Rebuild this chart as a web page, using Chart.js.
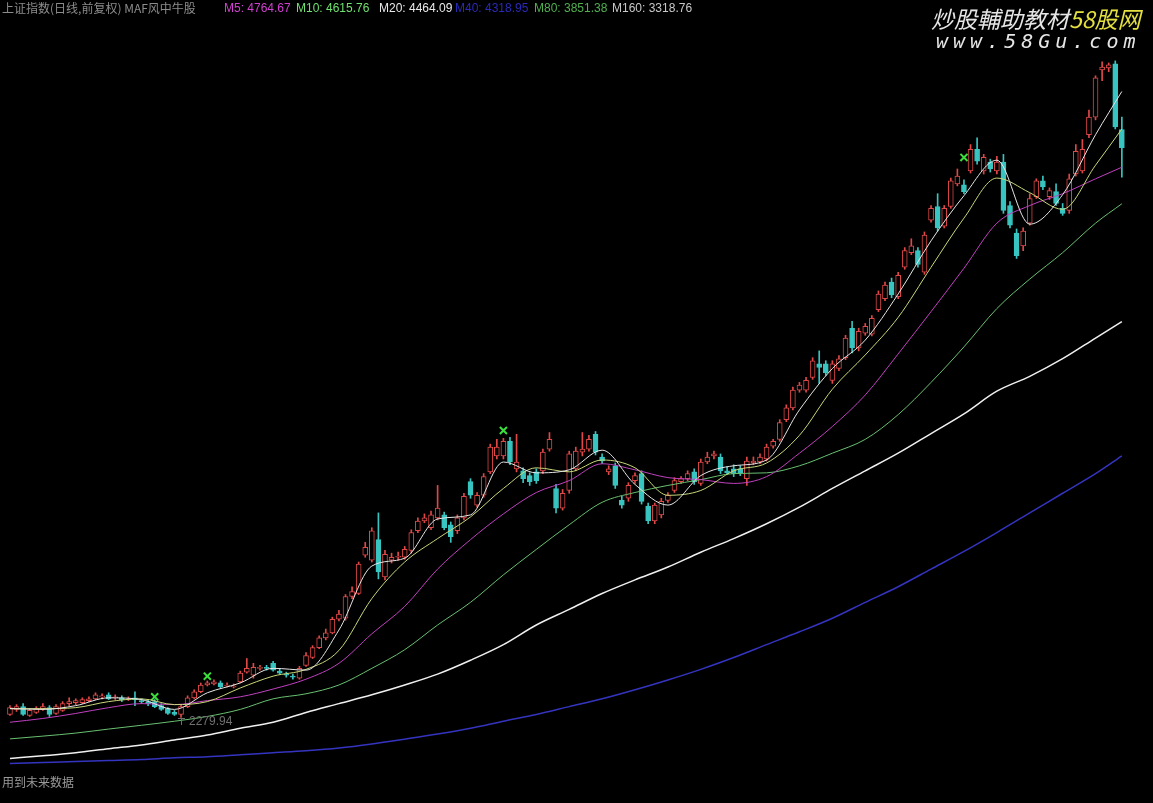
<!DOCTYPE html>
<html>
<head>
<meta charset="utf-8">
<script src="https://cdn.jsdelivr.net/npm/chart.js@4.4.0/dist/chart.umd.min.js"></script>
<style>
  body { margin: 0; background: #000; overflow: hidden; }
  #wrap { position: relative; width: 1153px; height: 803px; }
  canvas { position: absolute; left: 0; top: 0; }
  .t { position: absolute; top: 1px; font: 12px "Liberation Sans", "Noto Sans CJK SC", sans-serif; line-height: 14px; white-space: nowrap; }
  .wm1 { position: absolute; left: 931px; top: 6px; font: italic 23px "Noto Sans CJK SC", sans-serif; line-height: 24px; color: #e6e6e6; white-space: nowrap; }
  .wm2 { position: absolute; left: 936px; top: 30px; font: italic 20px "DejaVu Sans Mono", monospace; line-height: 22px; color: #e6e6e6; letter-spacing: 5px; white-space: nowrap; }
</style>
</head>
<body>
<div id="wrap">
  <canvas id="chart" width="1153" height="803"></canvas>
  <div class="t" style="left:2px;color:#8c8c8c;font-family:'Noto Sans CJK SC',sans-serif">上证指数(日线,前复权) MAF风中牛股</div>
  <div class="t" style="left:224px;color:#d040d0">M5: 4764.67</div>
  <div class="t" style="left:296px;color:#70e070">M10: 4615.76</div>
  <div class="t" style="left:379px;color:#e8e8e8">M20: 4464.09</div>
  <div class="t" style="left:455px;color:#2a2ab8">M40: 4318.95</div>
  <div class="t" style="left:534px;color:#50b050">M80: 3851.38</div>
  <div class="t" style="left:612px;color:#c8c8c8">M160: 3318.76</div>
  <div class="wm1">炒股輔助教材<span style="color:#e4e040">58股网</span></div>
  <div class="wm2">www.58Gu.com</div>
  <div class="t" style="left:2px;top:775px;color:#9a9a9a;font-family:'Noto Sans CJK SC',sans-serif">用到未来数据</div>
  <div class="t" id="lowLabel" style="color:#707070">2279.94</div>
</div>
<script>
// daily candles
const candleOpen = [
  2292,2312,2323,2288,2300,2315,2319,2296,2308,2335,
  2339,2339,2347,2354,2362,2370,2358,2358,2351,2358,
  2347,2343,2343,2327,2315,2300,2292,2323,2358,2382,
  2409,2413,2417,2405,2401,2421,2460,2448,2475,2479,
  2495,2464,2452,2444,2436,2487,2518,2557,2596,2616,
  2670,2674,2760,2772,2924,2904,2986,2838,2904,2916,
  2916,2943,3021,3060,3033,3072,3084,3045,3021,3072,
  3216,3123,3162,3255,3318,3318,3376,3267,3259,3240,
  3255,3259,3345,3189,3111,3181,3267,3333,3345,3404,
  3314,3255,3279,3142,3150,3220,3248,3119,3060,3084,
  3142,3181,3216,3228,3255,3209,3294,3318,3314,3259,
  3267,3267,3228,3290,3294,3306,3357,3384,3462,3509,
  3579,3579,3630,3684,3684,3618,3665,3708,3825,3747,
  3805,3801,3899,3942,4008,3950,4067,4125,4133,4047,
  4254,4308,4230,4308,4398,4394,4449,4535,4449,4484,
  4449,4484,4312,4203,4152,4242,4347,4410,4347,4367,
  4301,4293,4437,4449,4593,4663,4850,4858,4874,4613
];
const candleHigh = [
  2327,2331,2335,2315,2323,2335,2327,2331,2343,2358,
  2354,2358,2362,2378,2374,2378,2370,2366,2362,2382,
  2354,2351,2351,2335,2319,2308,2331,2366,2390,2417,
  2425,2429,2425,2417,2413,2464,2514,2495,2487,2487,
  2503,2471,2460,2452,2483,2538,2565,2604,2631,2678,
  2705,2768,2799,2897,2975,3033,3092,2943,2932,2936,
  2959,3025,3072,3088,3099,3201,3095,3056,3084,3170,
  3228,3173,3248,3365,3384,3388,3392,3404,3271,3251,
  3267,3345,3411,3205,3185,3337,3353,3411,3400,3415,
  3326,3279,3290,3158,3212,3251,3259,3131,3131,3150,
  3173,3232,3236,3259,3267,3306,3333,3337,3326,3275,
  3283,3279,3314,3314,3326,3365,3384,3462,3521,3591,
  3610,3630,3708,3735,3696,3696,3716,3797,3852,3825,
  3844,3875,3973,4008,4024,4047,4145,4180,4145,4207,
  4312,4359,4312,4421,4457,4414,4554,4581,4515,4496,
  4507,4515,4328,4219,4223,4359,4418,4429,4382,4398,
  4320,4437,4554,4574,4691,4827,4882,4878,4886,4663
];
const candleLow = [
  2288,2304,2288,2284,2296,2308,2284,2292,2304,2327,
  2331,2335,2343,2351,2354,2351,2351,2343,2347,2327,
  2335,2327,2319,2308,2292,2288,2279.94,2319,2354,2378,
  2405,2409,2397,2401,2397,2417,2456,2436,2468,2468,
  2464,2452,2440,2432,2432,2483,2514,2553,2588,2612,
  2663,2666,2752,2768,2916,2897,2830,2826,2893,2904,
  2908,2932,3014,3053,3025,3064,3025,2975,3010,3064,
  3150,3115,3154,3248,3306,3306,3283,3255,3212,3201,
  3209,3248,3337,3092,3103,3170,3259,3318,3337,3322,
  3287,3244,3189,3111,3138,3209,3127,3049,3049,3072,
  3134,3173,3209,3220,3205,3201,3287,3306,3248,3244,
  3236,3240,3201,3283,3287,3298,3349,3376,3454,3501,
  3571,3571,3622,3606,3638,3606,3657,3700,3727,3735,
  3797,3794,3891,3934,3946,3942,4059,4117,4067,4039,
  4246,4211,4223,4301,4390,4359,4441,4476,4437,4445,
  4437,4281,4223,4102,4133,4234,4340,4375,4336,4312,
  4273,4281,4429,4441,4581,4652,4808,4843,4616,4425
];
const candleClose = [
  2319,2323,2292,2308,2315,2323,2292,2323,2335,2343,
  2347,2351,2354,2370,2366,2354,2362,2351,2354,2351,
  2343,2335,2323,2312,2296,2292,2323,2358,2382,2409,
  2417,2421,2401,2409,2405,2456,2475,2479,2479,2475,
  2468,2456,2448,2440,2475,2526,2557,2596,2616,2670,
  2690,2760,2780,2889,2955,3021,2858,2928,2916,2920,
  2947,3014,3060,3072,3084,3111,3033,2998,3072,3158,
  3162,3162,3236,3353,3353,3376,3294,3294,3228,3216,
  3220,3333,3384,3111,3170,3326,3337,3345,3384,3333,
  3298,3267,3201,3123,3201,3240,3138,3060,3123,3138,
  3162,3220,3228,3248,3216,3294,3314,3326,3259,3251,
  3248,3251,3298,3298,3314,3353,3376,3450,3509,3579,
  3599,3618,3696,3669,3649,3684,3704,3786,3747,3813,
  3833,3864,3961,3996,3957,4035,4133,4152,4078,4195,
  4301,4223,4301,4410,4429,4367,4535,4488,4503,4457,
  4484,4293,4234,4113,4211,4340,4410,4386,4371,4320,
  4281,4418,4527,4535,4663,4819,4862,4870,4624,4542
];

// moving averages, sampled every 5 bars
const maIdx = [0,5,10,15,20,25,30,35,40,45,50,55,60,65,70,75,80,85,90,95,100,105,110,115,120,125,130,135,140,145,150,155,160,165,169];
const ma5 = [2315,2312,2327,2358,2351,2312,2378,2417,2475,2468,2627,2881,2912,3068,3084,3294,3251,3263,3341,3205,3123,3240,3279,3302,3501,3665,3778,3961,4172,4351,4492,4238,4355,4593,4764.67];
const ma10 = [2315,2315,2319,2343,2354,2331,2343,2397,2444,2471,2546,2752,2897,2990,3076,3189,3271,3255,3302,3271,3162,3181,3259,3290,3400,3583,3719,3868,4067,4262,4421,4363,4297,4472,4615.76];
const ma20 = [2261,2276,2296,2319,2335,2331,2347,2362,2393,2432,2495,2612,2721,2869,2986,3088,3173,3220,3287,3263,3232,3224,3209,3236,3329,3435,3560,3723,3891,4063,4242,4312,4359,4418,4464.09];
const ma40 = [2195,2206,2218,2234,2249,2265,2284,2312,2354,2374,2409,2475,2549,2647,2737,2846,2947,3045,3134,3173,3201,3224,3248,3251,3279,3329,3384,3482,3610,3751,3903,4020,4125,4242,4318.95];
const ma80 = [2117,2128,2140,2156,2171,2191,2210,2237,2261,2300,2335,2370,2409,2452,2507,2569,2647,2709,2772,2826,2877,2936,2990,3049,3115,3189,3259,3329,3407,3485,3575,3634,3704,3786,3851.38];
const ma160 = [2097,2101,2105,2109,2113,2120,2124,2132,2140,2148,2159,2175,2194,2214,2237,2265,2292,2323,2354,2390,2429,2471,2518,2569,2620,2674,2737,2799,2869,2939,3014,3092,3170,3248,3318.76];

// signal crosses
const markIdx = [22, 30, 75, 145];
const markVal = [2362, 2444, 3419, 4503];

const lowIdx = 26;
const lowVal = 2279.94;

const upColor = "#e04848";
const downColor = "#38c4c0";

const isUp = candleClose.map((c, i) => c >= candleOpen[i]);
const wickData = candleOpen.map((_, i) => ({ x: i, y: [candleLow[i], candleHigh[i]] }));
const bodyData = candleOpen.map((_, i) => ({ x: i, y: [candleOpen[i], candleClose[i]] }));
const maLine = (vals) => maIdx.map((x, k) => ({ x: x, y: vals[k] }));

const lineSet = (label, vals, color, width) => ({
  type: "line",
  label: label,
  data: maLine(vals),
  borderColor: color,
  borderWidth: width,
  pointRadius: 0,
  cubicInterpolationMode: "monotone",
  order: 0,
});

const lowMarker = {
  id: "lowMarker",
  afterDraw(chart) {
    const x = chart.scales.x.getPixelForValue(lowIdx);
    const y = chart.scales.y.getPixelForValue(lowVal);
    const ctx = chart.ctx;
    ctx.save();
    ctx.strokeStyle = "#707070";
    ctx.lineWidth = 1;
    ctx.beginPath();
    ctx.moveTo(x - 3, Math.round(y) + 1.5);
    ctx.lineTo(x + 4, Math.round(y) + 1.5);
    ctx.moveTo(Math.round(x) + 0.5, Math.round(y) + 1.5);
    ctx.lineTo(Math.round(x) + 0.5, Math.round(y) + 8);
    ctx.stroke();
    ctx.restore();
    const lbl = document.getElementById("lowLabel");
    lbl.style.left = (x + 8) + "px";
    lbl.style.top = (y - 3) + "px";
  },
};

new Chart(document.getElementById("chart"), {
  type: "bar",
  data: {
    datasets: [
      lineSet("MA5", ma5, "#e6e6e6", 1),
      lineSet("MA10", ma10, "#c8d878", 1),
      lineSet("MA20", ma20, "#c040c0", 1),
      lineSet("MA40", ma40, "#68c070", 1),
      lineSet("MA80", ma80, "#f0f0f0", 1.5),
      lineSet("MA160", ma160, "#3434c0", 1.5),
      {
        type: "line",
        label: "signal",
        data: markIdx.map((x, k) => ({ x: x, y: markVal[k] })),
        showLine: false,
        pointStyle: "crossRot",
        pointRadius: 5,
        borderColor: "#3ce03c",
        borderWidth: 2,
        order: 0,
      },
      {
        label: "body",
        data: bodyData,
        grouped: false,
        barThickness: 5,
        borderWidth: 1,
        borderSkipped: false,
        backgroundColor: isUp.map((u) => (u ? "#000000" : downColor)),
        borderColor: isUp.map((u) => (u ? upColor : downColor)),
        order: 1,
      },
      {
        label: "wick",
        data: wickData,
        grouped: false,
        barThickness: 1,
        borderWidth: 0,
        backgroundColor: isUp.map((u) => (u ? upColor : downColor)),
        order: 2,
      },
    ],
  },
  options: {
    responsive: false,
    devicePixelRatio: 1,
    animation: false,
    events: [],
    layout: { padding: 0 },
    plugins: { legend: { display: false }, tooltip: { enabled: false } },
    scales: {
      x: { type: "linear", min: -0.45, max: 172.67, offset: false, display: false },
      y: { min: 1968.3, max: 5100, display: false },
    },
  },
  plugins: [lowMarker],
});
</script>
</body>
</html>
